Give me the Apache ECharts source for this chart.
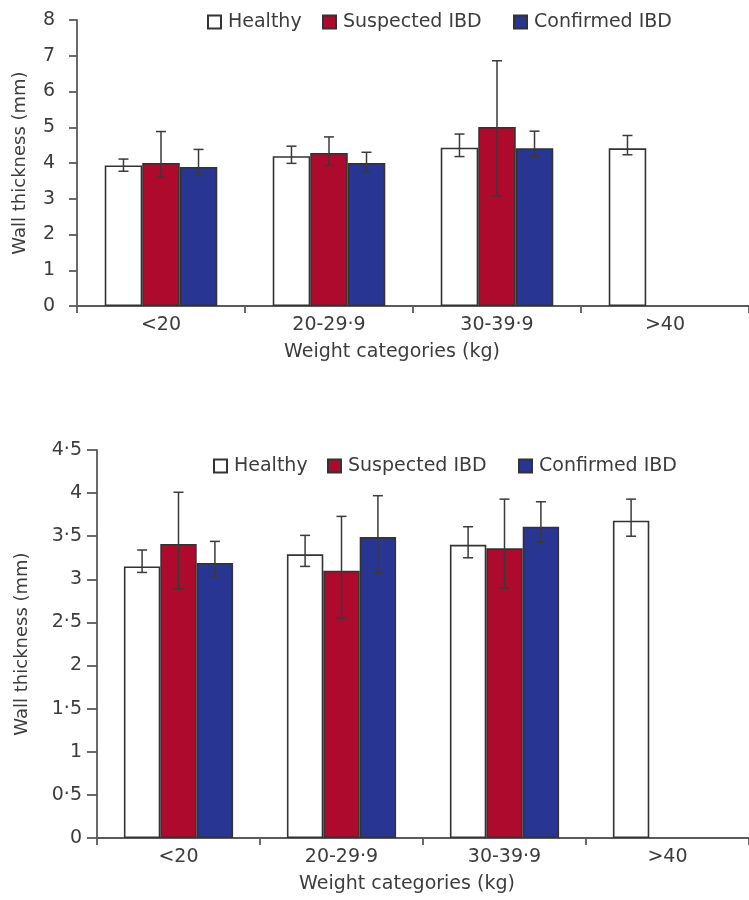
<!DOCTYPE html>
<html>
<head>
<meta charset="utf-8">
<script src="https://cdn.jsdelivr.net/npm/echarts@6/dist/echarts.min.js"></script>
<style>html,body{margin:0;padding:0;background:#fff;}#c{width:749px;height:900px;}</style>
</head>
<body>
<div id="c"></div>
<script>
// ---- data ----
var categories = ['<20', '20-29·9', '30-39·9', '>40'];
var seriesNames = ['Healthy', 'Suspected IBD', 'Confirmed IBD'];

// top chart
var topHealthy       = [3.93, 4.19, 4.43, 4.41];
var topHealthyLow    = [3.77, 3.99, 4.18, 4.23];
var topHealthyHigh   = [4.11, 4.47, 4.81, 4.77];
var topSuspected     = [4.00, 4.28, 5.01, null];
var topSuspectedLow  = [3.60, 3.93, 3.08, null];
var topSuspectedHigh = [4.88, 4.73, 6.86, null];
var topConfirmed     = [3.89, 4.00, 4.41, null];
var topConfirmedLow  = [3.66, 3.76, 4.18, null];
var topConfirmedHigh = [4.38, 4.30, 4.89, null];
var topYTicks = [0, 1, 2, 3, 4, 5, 6, 7, 8];

// bottom chart
var botHealthy       = [3.15, 3.29, 3.40, 3.68];
var botHealthyLow    = [3.08, 3.15, 3.25, 3.50];
var botHealthyHigh   = [3.34, 3.51, 3.61, 3.93];
var botSuspected     = [3.41, 3.10, 3.36, null];
var botSuspectedLow  = [2.89, 2.55, 2.90, null];
var botSuspectedHigh = [4.01, 3.73, 3.93, null];
var botConfirmed     = [3.19, 3.49, 3.61, null];
var botConfirmedLow  = [3.04, 3.08, 3.43, null];
var botConfirmedHigh = [3.44, 3.97, 3.90, null];
var botYTicks = [0, 0.5, 1, 1.5, 2, 2.5, 3, 3.5, 4, 4.5];

// ---- styles ----
var TXT = '#3c3c3c';
var AX = '#5a5a5a';
var FONT = 'DejaVu Sans';
var colors = ['#ffffff', '#ad0a2e', '#283593'];
var GAP = 0.33;

function fmt(v) { return String(v).replace('.', '·'); }

function barSeries(name, idx, grid, data) {
  return {
    type: 'bar', name: name, xAxisIndex: grid, yAxisIndex: grid,
    data: data.map(function (v) { return v == null ? '-' : v; }),
    barGap: '0%', barCategoryGap: (GAP * 100) + '%',
    itemStyle: { color: colors[idx], borderColor: '#333', borderWidth: 1.6 },
    emphasis: { disabled: true }, z: 2
  };
}

function errSeries(grid, groups) {
  var data = [];
  groups.forEach(function (g, gi) {
    for (var i = 0; i < categories.length; i++) {
      if (g.low[i] == null) continue;
      data.push([i, g.low[i], g.high[i], gi]);
    }
  });
  return {
    type: 'custom', xAxisIndex: grid, yAxisIndex: grid, z: 5,
    silent: true,
    encode: { x: 0, y: [1, 2] },
    data: data,
    renderItem: function (params, api) {
      var ci = api.value(0), lo = api.value(1), hi = api.value(2), gi = api.value(3);
      var band = api.size([1, 0])[0];
      var bw = band * (1 - GAP) / 3;
      var pLo = api.coord([ci, lo]);
      var pHi = api.coord([ci, hi]);
      var x = pLo[0] + (gi - 1) * bw;
      var cap = 5;
      var st = { stroke: '#3a3a3a', lineWidth: 1.5 };
      return {
        type: 'group',
        children: [
          { type: 'line', shape: { x1: x, y1: pHi[1], x2: x, y2: pLo[1] }, style: st },
          { type: 'line', shape: { x1: x - cap, y1: pHi[1], x2: x + cap, y2: pHi[1] }, style: st },
          { type: 'line', shape: { x1: x - cap, y1: pLo[1], x2: x + cap, y2: pLo[1] }, style: st }
        ]
      };
    }
  };
}

function legendAt(name, left, top) {
  return {
    data: [name], left: left, top: top, orient: 'horizontal',
    itemWidth: 13, itemHeight: 13, itemGap: 0, padding: 0,
    icon: 'rect', selectedMode: false,
    textStyle: { color: TXT, fontFamily: FONT, fontSize: 19, padding: [0, 0, 0, 2] }
  };
}

function xAxisOf(grid, namePadRight) {
  return {
    type: 'category', gridIndex: grid, data: categories,
    axisLine: { lineStyle: { color: AX, width: 1.8 } },
    axisTick: { show: true, length: 7, lineStyle: { color: AX, width: 1.8 } },
    axisLabel: { color: TXT, fontFamily: FONT, fontSize: 19, margin: 10, interval: 0 },
    name: 'Weight categories (kg)', nameLocation: 'middle', nameGap: 37,
    nameTextStyle: { color: TXT, fontFamily: FONT, fontSize: 19, padding: [0, namePadRight, 0, 0] }
  };
}

function yAxisOf(grid, max, interval, tickLen, margin, nameGap) {
  return {
    type: 'value', gridIndex: grid, min: 0, max: max, interval: interval,
    axisLine: { show: true, lineStyle: { color: AX, width: 1.8 } },
    axisTick: { show: true, length: tickLen, lineStyle: { color: AX, width: 1.8 } },
    splitLine: { show: false },
    axisLabel: { color: TXT, fontFamily: FONT, fontSize: 19, margin: margin, formatter: fmt },
    name: 'Wall thickness (mm)', nameLocation: 'middle', nameGap: nameGap,
    nameTextStyle: { color: TXT, fontFamily: FONT, fontSize: 18 }
  };
}

var option = {
  animation: false,
  backgroundColor: '#fff',
  grid: [
    { left: 77, top: 20, width: 680, height: 286, containLabel: false },
    { left: 97, top: 450, width: 661, height: 388, containLabel: false }
  ],
  legend: [
    legendAt('Healthy', 207, 12.5),
    legendAt('Suspected IBD', 322, 12.5),
    legendAt('Confirmed IBD', 513, 12.5),
    legendAt('Healthy', 213, 456.5),
    legendAt('Suspected IBD', 327, 456.5),
    legendAt('Confirmed IBD', 518, 456.5)
  ],
  xAxis: [xAxisOf(0, 42), xAxisOf(1, 32)],
  yAxis: [
    yAxisOf(0, topYTicks[topYTicks.length - 1], topYTicks[1] - topYTicks[0], 8, 22, 48),
    yAxisOf(1, botYTicks[botYTicks.length - 1], botYTicks[1] - botYTicks[0], 10, 15, 66)
  ],
  series: [
    barSeries(seriesNames[0], 0, 0, topHealthy),
    barSeries(seriesNames[1], 1, 0, topSuspected),
    barSeries(seriesNames[2], 2, 0, topConfirmed),
    barSeries(seriesNames[0], 0, 1, botHealthy),
    barSeries(seriesNames[1], 1, 1, botSuspected),
    barSeries(seriesNames[2], 2, 1, botConfirmed),
    errSeries(0, [
      { low: topHealthyLow, high: topHealthyHigh },
      { low: topSuspectedLow, high: topSuspectedHigh },
      { low: topConfirmedLow, high: topConfirmedHigh }
    ]),
    errSeries(1, [
      { low: botHealthyLow, high: botHealthyHigh },
      { low: botSuspectedLow, high: botSuspectedHigh },
      { low: botConfirmedLow, high: botConfirmedHigh }
    ])
  ]
};

var chart = echarts.init(document.getElementById('c'), null, { renderer: 'canvas' });
chart.setOption(option);
</script>
</body>
</html>
